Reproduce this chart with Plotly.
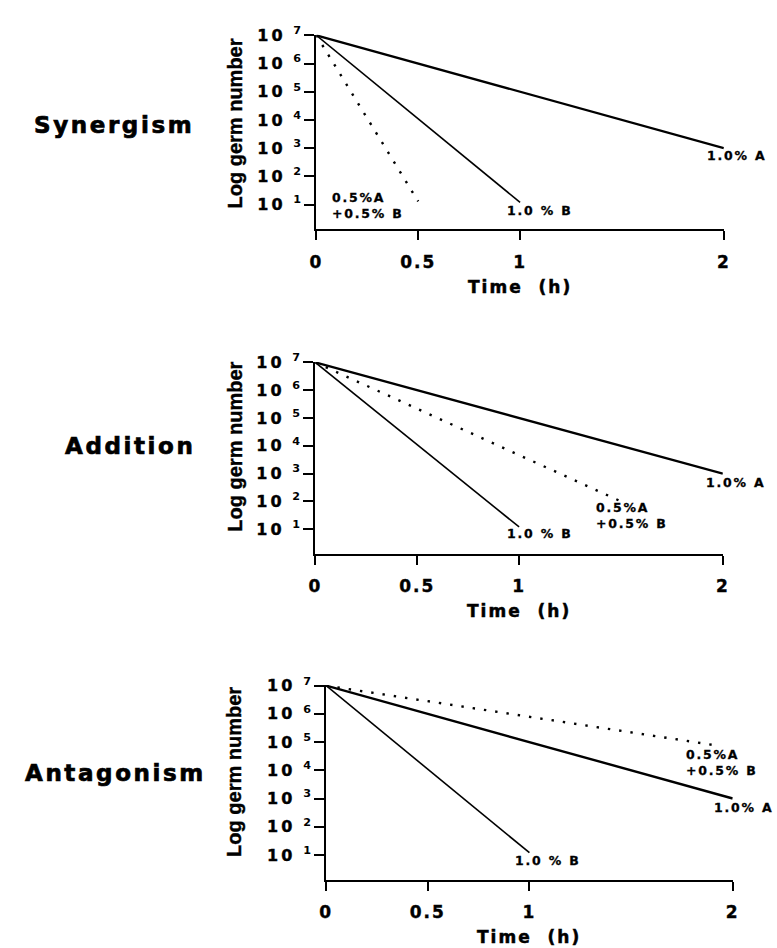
import math
import plotly.graph_objects as go

# ---- data -------------------------------------------------------------
panel_names = ["Synergism", "Addition", "Antagonism"]

# 1.0 % of agent A alone (same curve in every panel)
time_a = [0, 2]
germs_a = [1e7, 1e3]

# 1.0 % of agent B alone (same curve in every panel)
time_b = [0, 1]
germs_b = [1e7, 1.2e1]

# 0.5 % A + 0.5 % B combination, one curve per panel
time_mix_syn = [0, 0.5]
germs_mix_syn = [1e7, 1.3e1]
time_mix_add = [0, 1.5]
germs_mix_add = [1e7, 1e2]
time_mix_ant = [0, 1.9]
germs_mix_ant = [1e7, 8e4]

label_a = "1.0% A"
label_b = "1.0 % B"
label_mix = ["0.5%A", "+0.5% B"]

x_tick_vals = [0, 0.5, 1, 2]
x_tick_text = ["0", "0.5", "1", "2"]
y_exponents = [1, 2, 3, 4, 5, 6, 7]

x_title = "Time  (h)"
y_title = "Log germ number"

# ---- layout helpers ---------------------------------------------------
FIG_W, FIG_H = 777, 948
WIDE = "DejaVu Sans"
NARROW = "Liberation Sans"


def px(x):
    return x / FIG_W


def py(y):
    return 1 - y / FIG_H


def spaced(text, sp, stroke=0.0):
    style = f"letter-spacing:{sp}px"
    if stroke:
        style += f";stroke:black;stroke-width:{stroke}px"
    return f'<span style="{style}">{text}</span>'


# pixel geometry of each panel (plot area) and placement of its texts
geometry = [
    dict(x0=315, x2=730, ytop=24, ybot=221, title=(109, 115), ylab=(232, 114),
         a_shift=(-19, -7), b_shift=(-15, -8), mix_shift=(-88, -4)),
    dict(x0=314, x2=729, ytop=355, ybot=549, title=(125, 440), ylab=(232, 441),
         a_shift=(-19, -9), b_shift=(-14, -7), mix_shift=(-27, -14)),
    dict(x0=325, x2=739, ytop=682, ybot=879, title=(110, 771), ylab=(231, 770),
         a_shift=(-21, -9), b_shift=(-16, -8), mix_shift=(-28, -18)),
]
mix_series = [
    (time_mix_syn, germs_mix_syn),
    (time_mix_add, germs_mix_add),
    (time_mix_ant, germs_mix_ant),
]

fig = go.Figure()
annotations = []
layout_axes = {}

label_font = dict(family=WIDE, size=12.5, color="black", weight="bold")

for i, (name, g, (tm, gm)) in enumerate(zip(panel_names, geometry, mix_series)):
    sfx = "" if i == 0 else str(i + 1)
    xa, ya = "x" + sfx, "y" + sfx

    fig.add_trace(go.Scatter(x=time_a, y=germs_a, mode="lines", xaxis=xa, yaxis=ya,
                             line=dict(color="black", width=2.4), hoverinfo="skip"))
    fig.add_trace(go.Scatter(x=time_b, y=germs_b, mode="lines", xaxis=xa, yaxis=ya,
                             line=dict(color="black", width=1.6), hoverinfo="skip"))
    fig.add_trace(go.Scatter(x=tm, y=gm, mode="lines", xaxis=xa, yaxis=ya,
                             line=dict(color="black", width=2.4, dash="2.4px,9px"),
                             hoverinfo="skip"))

    layout_axes["xaxis" + sfx] = dict(
        domain=[px(g["x0"]), px(g["x2"])], anchor=ya, range=[0, 2],
        showgrid=False, zeroline=False, showline=True, linecolor="black", linewidth=2,
        ticks="outside", ticklen=9, tickwidth=1.6, tickcolor="black",
        tickvals=x_tick_vals, ticktext=[spaced(t, 2, 0.4) for t in x_tick_text],
        tickfont=dict(family=WIDE, size=17, color="black", weight="bold"),
        ticklabelstandoff=7,
    )
    layout_axes["yaxis" + sfx] = dict(
        domain=[py(g["ybot"]), py(g["ytop"])], anchor=xa, type="log", range=[0.12, 7.02],
        showgrid=False, zeroline=False, showline=True, linecolor="black", linewidth=2,
        ticks="outside", ticklen=10, tickwidth=1.6, tickcolor="black",
        tickvals=[10 ** e for e in y_exponents],
        ticktext=[spaced("10", 3, 0.4) + f"<sup>  {e}</sup>" for e in y_exponents],
        tickfont=dict(family=WIDE, size=16, color="black", weight="bold"),
    )

    # curve labels, placed next to each curve's end point
    for lines, xs, ys, shift in [
        ([label_a], time_a, germs_a, g["a_shift"]),
        ([label_b], time_b, germs_b, g["b_shift"]),
        (label_mix, tm, gm, g["mix_shift"]),
    ]:
        annotations.append(dict(
            x=xs[-1], y=math.log10(ys[-1]), xref=xa, yref=ya,
            text="<br>".join(spaced(t, 1.8, 0.3) for t in lines),
            showarrow=False, xanchor="left", yanchor="middle", align="left",
            xshift=shift[0], yshift=shift[1], font=label_font,
        ))

    # panel title
    annotations.append(dict(
        x=px(g["title"][0]), y=py(g["title"][1]), xref="paper", yref="paper",
        text=spaced(name, 2.6, 0.7), showarrow=False, xanchor="center", yanchor="middle",
        font=dict(family=WIDE, size=23, color="black", weight="bold"),
    ))
    # y-axis title
    annotations.append(dict(
        x=px(g["ylab"][0]), y=py(g["ylab"][1]), xref="paper", yref="paper",
        text=spaced(y_title, 0, 0.4), textangle=-90, showarrow=False,
        xanchor="center", yanchor="middle",
        font=dict(family=NARROW, size=20, color="black", weight="bold"),
    ))
    # x-axis title
    annotations.append(dict(
        x=px((g["x0"] + g["x2"]) / 2), y=py(g["ybot"] + 58), xref="paper", yref="paper",
        text=spaced(x_title, 2, 0.5), showarrow=False, xanchor="center", yanchor="middle",
        font=dict(family=WIDE, size=17, color="black", weight="bold"),
    ))

fig.update_layout(
    width=FIG_W, height=FIG_H,
    margin=dict(l=0, r=0, t=0, b=0),
    paper_bgcolor="white", plot_bgcolor="white",
    showlegend=False,
    annotations=annotations,
    **layout_axes,
)

fig.write_html("out.html")
